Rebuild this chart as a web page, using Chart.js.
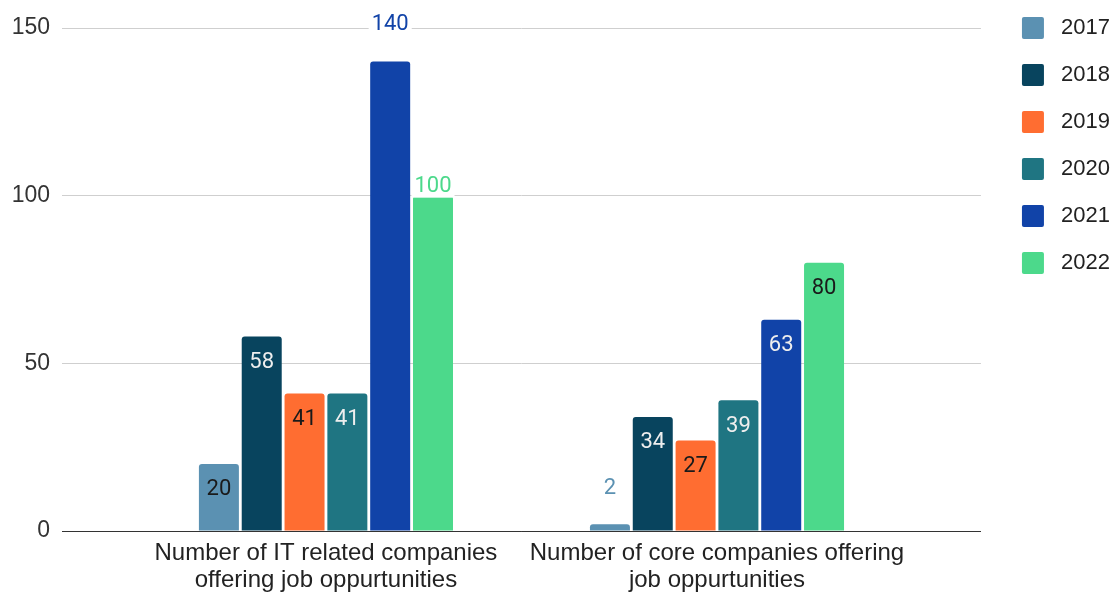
<!DOCTYPE html>
<html>
<head>
<meta charset="utf-8">
<script src="https://cdn.jsdelivr.net/npm/chart.js@4"></script>
<style>
  html, body { margin: 0; padding: 0; background: #fff; overflow: hidden; }
  #wrap { width: 1120px; height: 596px; overflow: hidden; position: relative; }
  #wrap canvas { position: absolute; left: 0; top: -8px; }
</style>
</head>
<body>
<div id="wrap"><canvas id="chart" width="1120" height="604" style="width:1120px;height:604px"></canvas></div>
<script>
// categories (two lines each, as in the sheet)
const categories = [
  ["Number of IT related companies", "offering job oppurtunities"],
  ["Number of core companies offering", "job oppurtunities"]
];
const years = ["2017", "2018", "2019", "2020", "2021", "2022"];
const itRelated = [20, 58, 41, 41, 140, 100];
const coreCompanies = [2, 34, 27, 39, 63, 80];
const yTicks = [0, 50, 100, 150];

const colors = ["#5b91b2", "#08445e", "#ff6d31", "#1f7582", "#1143a8", "#4cd98b"];
const darkText = [0, 2, 5];  // light bars get dark value text

// labels that Sheets put above the bar: "dataset:index" -> lift in px
const above = { "4:0": 37, "5:0": 9, "0:1": 36 };

const valueLabels = {
  id: "valueLabels",
  afterDatasetsDraw(chart) {
    const ctx = chart.ctx;
    ctx.save();
    ctx.font = "22px Roboto";
    ctx.textAlign = "center";
    ctx.textBaseline = "middle";
    chart.data.datasets.forEach((ds, di) => {
      chart.getDatasetMeta(di).data.forEach((bar, i) => {
        const txt = String(ds.data[i].y);
        const lift = above[di + ":" + i];
        if (lift !== undefined) {
          const y = bar.y - lift;
          const w = ctx.measureText(txt).width;
          ctx.fillStyle = "#fff";
          ctx.fillRect(bar.x - w / 2 - 3, y - 11, w + 6, 22);
          ctx.fillStyle = ds.backgroundColor;
          ctx.fillText(txt, bar.x, y);
        } else {
          ctx.fillStyle = darkText.includes(di) ? "#1a1a1a" : "#eeeeee";
          ctx.fillText(txt, bar.x, bar.y + 26);
        }
      });
    });
    ctx.restore();
  }
};

const datasets = years.map((yr, k) => ({
  label: yr,
  data: [{ x: 0, y: itRelated[k] }, { x: 1, y: coreCompanies[k] }],
  backgroundColor: colors[k],
  borderWidth: 0,
  borderRadius: { topLeft: 3, topRight: 3 },
  borderSkipped: "bottom",
  categoryPercentage: 0.657,
  barPercentage: 0.934,
  yAxisID: "y"
}));

const family = "'Liberation Sans', Arial, sans-serif";

new Chart("chart", {
  type: "bar",
  data: { datasets: datasets },
  plugins: [valueLabels],
  options: {
    responsive: false,
    animation: false,
    layout: { padding: 0 },
    plugins: {
      title: { display: true, text: "", fullSize: false, padding: 0, font: { size: 36, lineHeight: 1 } },
      tooltip: { enabled: false },
      legend: {
        position: "right",
        align: "start",
        labels: {
          boxWidth: 22,
          boxHeight: 22,
          padding: 25,
          color: "#222",
          font: { family: family, size: 22 },
          useBorderRadius: true,
          borderRadius: 2,
          generateLabels: (chart) =>
            Chart.defaults.plugins.legend.labels.generateLabels(chart).map(l => ({ ...l, text: " " + l.text, lineWidth: 0 }))
        }
      }
    },
    scales: {
      x: {
        type: "linear",
        offset: false,
        min: -0.675,
        max: 1.675,
        afterBuildTicks: (s) => { s.ticks = categories.map((c, i) => ({ value: i })); },
        afterFit: (s) => { s.height = 65; },
        grid: { display: false, drawTicks: false },
        border: { display: true, color: "#333", width: 1 },
        ticks: {
          autoSkip: false,
          maxRotation: 0,
          padding: 9,
          color: "#222",
          font: { family: family, size: 24, lineHeight: 1.125 },
          callback: (v) => categories[v] || ""
        }
      },
      y: {
        min: 0,
        max: 150,
        afterBuildTicks: (s) => { s.ticks = yTicks.map(v => ({ value: v })); },
        afterFit: (s) => { s.width = 62; },
        grid: {
          drawTicks: false,
          color: (c) => (c.tick && c.tick.value === 0 ? "#333" : "#cfcfcf")
        },
        border: { display: false },
        ticks: { padding: 12, color: "#333", font: { family: family, size: 23 } }
      },
      sp: {
        type: "linear",
        position: "right",
        display: true,
        afterFit: (s) => { s.width = 16; },
        grid: { display: false, drawTicks: false },
        border: { display: false },
        ticks: { display: false }
      }
    }
  }
});
</script>
</body>
</html>
